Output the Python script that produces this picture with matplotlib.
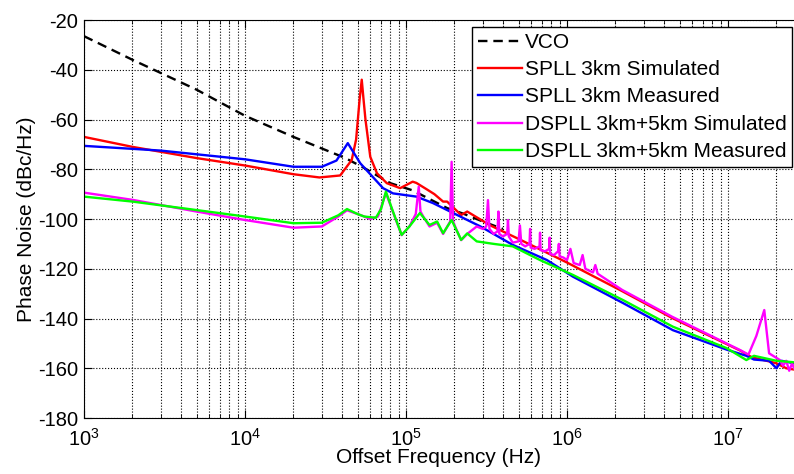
import matplotlib
matplotlib.use('Agg')
import matplotlib.pyplot as plt
import numpy as np

plt.rcParams['font.family'] = ['Liberation Sans', 'DejaVu Sans']
plt.rcParams['mathtext.fontset'] = 'custom'
plt.rcParams['mathtext.rm'] = 'Liberation Sans'
plt.rcParams['axes.unicode_minus'] = False

# values
vco_f = [1e3, 2e3, 5e3, 1e4, 2e4, 4.2e4, 5.5e4, 8e4, 1.1e5, 1.8e5, 2.3e5, 3e5, 4e5]
vco_db = [-26.5, -36, -48, -58.5, -67, -75.5, -79.5, -85.6, -88.5, -95.6, -98, -101, -104]

spll_sim_f = [1e3, 2e3, 5e3, 1e4, 2e4, 2.9e4, 3.9e4, 4.6e4, 4.9e4, 5.15e4, 5.31e4, 5.45e4,
              5.6e4, 6e4, 6.6e4, 7.6e4, 9.2e4, 1.1e5, 1.16e5, 1.34e5, 1.5e5, 1.7e5, 1.8e5,
              2.2e5, 2.4e5, 2.7e5, 3.3e5, 3.6e5, 5e5, 1e6, 2.2e6, 4.5e6, 1.2e7, 1.4e7,
              2e7, 2.3e7, 2.57e7]
spll_sim_db = [-67, -71, -75.5, -78.5, -82, -83.3, -82.5, -76.3, -68, -52, -44, -52,
               -60, -75, -81.6, -85.6, -87.6, -85, -85.5, -88, -90, -93, -93,
               -98.4, -97, -99, -102.4, -103.6, -108, -117.5, -129, -139.8, -153, -155.5,
               -158, -160, -160.5]

spll_meas_f = [1e3, 3e3, 1e4, 2e4, 3e4, 3.7e4, 4.35e4, 5.2e4, 6.2e4, 7.2e4, 8.3e4, 1.16e5,
               1.47e5, 1.8e5, 2.9e5, 4.6e5, 7.5e5, 1.09e6, 2.23e6, 4.55e6, 9.8e6, 1.3e7,
               1.45e7, 1.8e7, 2e7, 2.15e7, 2.57e7]
spll_meas_db = [-70.6, -72.5, -76, -79, -79, -76.5, -69.5, -77.6, -83, -87.6, -89.7, -91,
                -93.6, -96.4, -103, -110.4, -116.5, -123.2, -133.8, -144.7, -152.5, -155,
                -156.5, -157, -160, -157, -158]

dspll_sim_f = [1e3, 2e3, 5e3, 1e4, 2e4, 3e4, 3.8e4, 4.3e4, 5e4, 5.5e4, 6e4, 6.7e4, 7.5e4,
               8.5e4, 9.4e4, 1.05e5, 1.15e5, 1.2e5, 1.23e5, 1.28e5, 1.4e5, 1.56e5, 1.7e5,
               1.88e5, 1.92e5, 1.96e5, 2.05e5, 2.2e5, 2.4e5, 2.75e5, 3.0e5, 3.15e5, 3.23e5,
               3.3e5, 3.5e5, 3.7e5, 3.75e5, 3.8e5, 4.0e5, 4.25e5, 4.3e5, 4.35e5, 4.6e5,
               5.0e5, 5.1e5, 5.2e5, 5.5e5, 5.85e5, 5.9e5, 5.95e5, 6.3e5, 6.75e5, 6.8e5,
               6.85e5, 7.3e5, 7.75e5, 7.8e5, 7.85e5, 8.3e5, 8.8e5, 8.9e5, 9e5, 9.5e5,
               1e6, 1.05e6, 1.1e6, 1.2e6, 1.25e6, 1.3e6, 1.45e6, 1.5e6, 1.55e6, 2.2e6,
               4.5e6, 1.19e7, 1.34e7, 1.5e7, 1.68e7, 1.8e7, 2.1e7, 2.2e7,
               2.3e7, 2.4e7, 2.5e7, 2.57e7]
dspll_sim_db = [-89.4, -92.3, -97, -100.4, -103.5, -103, -99, -96.5, -98, -99, -100, -99, -89.5,
                -99, -106.5, -103, -98, -87, -97, -99, -103, -101.5, -106,
                -101, -77, -101, -104, -108.5, -106, -103, -104, -103, -92.4,
                -104, -106, -105, -97, -106, -107, -106, -100.4, -107, -109.5,
                -109, -102.6, -110, -111, -110, -104, -111.5, -112, -111, -105.5,
                -112.5, -113, -112, -107.5, -114, -114.5, -113, -110, -115, -115.5,
                -116.5, -112, -117.7, -118.5, -114.5, -120, -121.5, -118.5, -122, -128.5,
                -139.3, -152.7, -154.5, -147, -136.6, -154, -156.7, -159,
                -157, -161, -158, -160]

dspll_meas_f = [1e3, 2e3, 5e3, 1e4, 2e4, 3e4, 3.8e4, 4.3e4, 5e4, 5.5e4, 6.5e4, 7e4, 7.5e4,
                8.3e4, 9.4e4, 1.05e5, 1.22e5, 1.4e5, 1.56e5, 1.7e5, 1.92e5, 2.2e5, 2.4e5,
                2.75e5, 3.5e5, 4.6e5, 6.8e5, 1.09e6, 2.23e6, 4.55e6, 9.8e6, 1.3e7, 1.45e7,
                2e7, 2.57e7]
dspll_meas_db = [-91, -93, -96.4, -99, -101.7, -101.5, -98.5, -96, -98, -99, -99.5, -96, -89,
                 -97, -106.4, -103, -97.6, -102.4, -101, -105.7, -100.4, -108.4, -105.8,
                 -109, -110, -111, -116.5, -122.5, -132.6, -143.3, -151.9, -156.7, -155,
                 -157, -157.6]

fig = plt.figure(figsize=(7.94, 4.74), dpi=100)
ax = fig.add_axes([84 / 794, 1 - 418 / 474, 1 - 84 / 794, 398 / 474])

ax.plot(vco_f, vco_db, 'k--', lw=1.7, dashes=(4, 2.5), label='VCO')
ax.plot(spll_sim_f, spll_sim_db, color='#ff0000', lw=1.7, label='SPLL 3km Simulated')
ax.plot(spll_meas_f, spll_meas_db, color='#0000ff', lw=1.7, label='SPLL 3km Measured')
ax.plot(dspll_sim_f, dspll_sim_db, color='#ff00ff', lw=1.7, label='DSPLL 3km+5km Simulated')
ax.plot(dspll_meas_f, dspll_meas_db, color='#00ff00', lw=1.7, label='DSPLL 3km+5km Measured')

ax.set_xscale('log')
ax.set_xlim(1e3, 2.57e7)
ax.set_ylim(-180, -20)
ax.set_yticks(np.arange(-180, -19, 20))

ax.grid(True, which='major', color='black', linestyle=':', linewidth=0.8)
ax.grid(True, which='minor', axis='x', color='black', linestyle=':', linewidth=0.8)
ax.tick_params(which='both', direction='in', top=True, right=False, labelsize=14.5)
ax.tick_params(which='major', length=6)
ax.tick_params(which='minor', length=3)
ax.tick_params(axis='x', which='both', pad=7)
ax.tick_params(axis='y', which='both', pad=4)
ax.spines['right'].set_visible(False)

ax.set_xlabel('Offset Frequency (Hz)', fontsize=15, labelpad=-1)
ax.set_ylabel('Phase Noise (dBc/Hz)', fontsize=15, labelpad=2)

leg = ax.legend(loc='upper left', bbox_to_anchor=(472 / 794, 1 - 27 / 474),
                bbox_transform=fig.transFigure, borderaxespad=0, fontsize=15,
                handlelength=2.1, handletextpad=0.15, labelspacing=0.4, borderpad=0.28,
                fancybox=False, edgecolor='black', framealpha=1)
leg.get_frame().set_linewidth(1.0)

fig.savefig('out.png', dpi=100)
